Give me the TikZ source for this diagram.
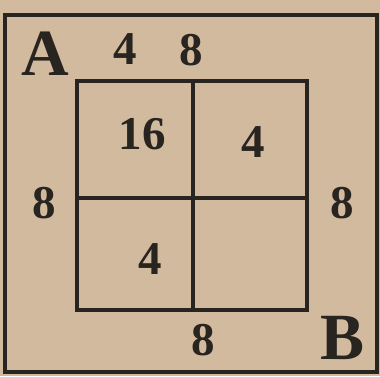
\documentclass[tikz,border=0pt]{standalone}
\usepackage{fontspec}
\setmainfont{Liberation Serif}
\definecolor{paper}{RGB}{210,186,158}
\definecolor{ink}{RGB}{40,36,32}
\begin{document}
\begin{tikzpicture}[x=1pt,y=1pt,
  frame/.style={draw=ink,line width=3.4pt},
  grid/.style={draw=ink,line width=4pt},
  letter/.style={text=ink,inner sep=0pt,font=\fontsize{66}{66}\selectfont\bfseries},
  numeral/.style={text=ink,inner sep=0pt,font=\fontsize{47}{47}\selectfont\bfseries}]
\fill[paper] (0,0) rectangle (380,376);
\useasboundingbox (0,0) rectangle (380,376);
% outer frame
\draw[frame] (5,361) rectangle (377,4);
% inner square
\coordinate (tl) at (77,295);
\coordinate (br) at (307,66);
\coordinate (mt) at (193,295);
\coordinate (mb) at (193,66);
\coordinate (ml) at (77,178);
\coordinate (mr) at (307,178);
\draw[grid] (tl) rectangle (br);
\draw[grid] (mt) -- (mb);
\draw[grid] (ml) -- (mr);
% labels
\node[letter] (A) at (45,322) {A};
\node[letter] (B) at (343,38) {B};
\node[numeral] (top4) at (125,327) {4};
\node[numeral] (top8) at (191,326) {8};
\node[numeral] (left8) at (44,173) {8};
\node[numeral] (right8) at (342,173) {8};
\node[numeral] (bot8) at (203,36) {8};
\node[numeral] (c16) at (142,242) {16};
\node[numeral] (c4a) at (253,234) {4};
\node[numeral] (c4b) at (150,117) {4};
\end{tikzpicture}
\end{document}
